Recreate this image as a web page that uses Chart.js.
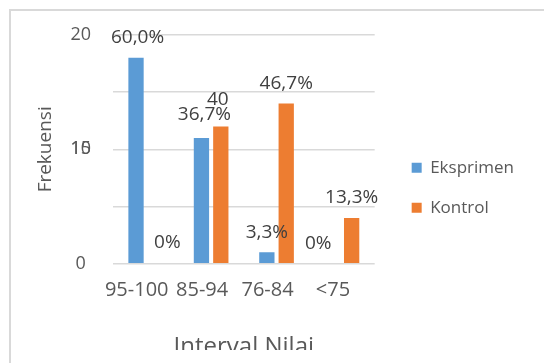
<!DOCTYPE html>
<html lang="id">
<head>
<meta charset="utf-8">
<script src="https://cdn.jsdelivr.net/npm/chart.js@4.4.1/dist/chart.umd.min.js"></script>
<style>
  html, body { margin: 0; padding: 0; width: 100%; height: 100%; overflow: hidden; background: #fff; }
  .frame { position: absolute; left: 9px; top: 9px; width: 600px; height: 400px; border: 2px solid #d9d9d9; }
  .clip { position: absolute; left: 0; top: 0; width: 544px; height: 350px; overflow: hidden; }
  .box { position: relative; width: 544px; height: 380px; }
</style>
</head>
<body>
<div class="frame"></div>
<div class="clip"><div class="box"><canvas id="chart"></canvas></div></div>
<script>
const categories = ['95-100', '85-94', '76-84', '<75'];
const eksprimen = [18, 11, 1, 0];
const kontrol = [0, 12, 14, 4];
const eksprimenLabels = ['60,0%', '36,7%', '3,3%', '0%'];
const kontrolLabels = ['0%', '40', '46,7%', '13,3%'];
const yTickLabels = { 0: '0', 10: '10', 20: '20' };
const yOverlapTick = { value: 10, text: '15' }; // the original prints "15" on top of "10"

// small nudges of the data labels, relative to their bar (dx, lift)
const labelNudge = [
  [[1.5, 20], [3, 23], [0, 20], [-14, 20]],
  [[12, 21], [-3, 27], [0, 20], [0, 20]]
];

Chart.defaults.font.family = "'Open Sans', sans-serif";
const textGray = '#595959';
const yTickPad = 22;

const dataLabels = {
  id: 'dataLabels',
  afterDatasetsDraw(chart) {
    const ctx = chart.ctx;
    const texts = [eksprimenLabels, kontrolLabels];
    ctx.save();
    ctx.font = "19px 'Open Sans', sans-serif";
    ctx.fillStyle = '#404040';
    ctx.textAlign = 'center';
    ctx.textBaseline = 'middle';
    chart.data.datasets.forEach((ds, di) => {
      chart.getDatasetMeta(di).data.forEach((bar, i) => {
        const [dx, lift] = labelNudge[di][i];
        ctx.fillText(texts[di][i], bar.x + dx, bar.y - lift);
      });
    });
    // overlapping y tick
    const ys = chart.scales.y;
    ctx.font = "18px 'Open Sans', sans-serif";
    ctx.fillStyle = textGray;
    const w = ctx.measureText('20').width;
    ctx.fillText(yOverlapTick.text, ys.right - yTickPad - w / 2, ys.getPixelForValue(yOverlapTick.value));
    ctx.restore();
  }
};

new Chart(document.getElementById('chart'), {
  type: 'bar',
  data: {
    labels: categories,
    datasets: [{
      label: 'Eksprimen',
      data: eksprimen,
      backgroundColor: '#5B9BD5',
      barPercentage: 0.79,
      categoryPercentage: 0.592
    }, {
      label: 'Kontrol',
      data: kontrol,
      backgroundColor: '#ED7D31',
      barPercentage: 0.79,
      categoryPercentage: 0.592
    }]
  },
  options: {
    responsive: true,
    maintainAspectRatio: false,
    animation: false,
    layout: { padding: { left: 34, top: 35, right: 20, bottom: 14.5 } },
    plugins: {
      tooltip: { enabled: false },
      legend: {
        position: 'right',
        fullSize: false,
        maxWidth: 220,
        title: { display: true, text: ' ', font: { size: 10 }, padding: { top: 0, bottom: 65 } },
        labels: { boxWidth: 10, boxHeight: 10, padding: 23, color: textGray, font: { size: 17 } }
      }
    },
    scales: {
      x: {
        grid: { display: false, drawTicks: false },
        border: { display: false },
        ticks: { color: textGray, font: { size: 20 }, padding: 15, labelOffset: -9, maxRotation: 0, autoSkip: false },
        title: { display: true, text: 'Interval Nilai', color: textGray, font: { size: 24 }, padding: { top: 15, bottom: 4 } }
      },
      y: {
        min: 0,
        max: 20,
        grid: { color: '#d9d9d9', lineWidth: 1.5, drawTicks: false },
        border: { display: false },
        ticks: {
          stepSize: 5,
          color: textGray,
          font: { size: 18 },
          padding: yTickPad,
          crossAlign: 'center',
          callback: v => yTickLabels[v] ?? ''
        },
        title: { display: true, text: 'Frekuensi', color: textGray, font: { size: 19 }, padding: { top: 0, bottom: 13 } },
        afterFit: s => { s.width = 79; }
      },
      y2: {
        position: 'right',
        grid: { display: false, drawTicks: false },
        border: { display: false },
        ticks: { display: false },
        afterFit: s => { s.width = 14; }
      }
    }
  },
  plugins: [dataLabels]
});
</script>
</body>
</html>
